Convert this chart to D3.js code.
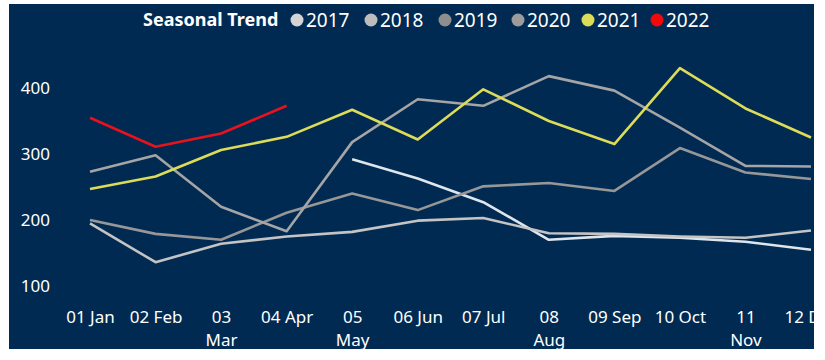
<!DOCTYPE html>
<html>
<head>
<meta charset="utf-8">
<script src="https://cdn.jsdelivr.net/npm/d3@7/dist/d3.min.js"></script>
<style>
  html, body { margin: 0; padding: 0; background: #ffffff; }
  svg { display: block; }
  text { font-family: "Noto Sans", "Open Sans", sans-serif; }
</style>
</head>
<body>
<svg id="chart" width="825" height="360"></svg>
<script>
// Month categories along the x axis
const categories = ["01 Jan", "02 Feb", "03 Mar", "04 Apr", "05 May", "06 Jun",
                    "07 Jul", "08 Aug", "09 Sep", "10 Oct", "11 Nov", "12 Dec"];
// Tick labels as drawn (some wrap onto a second line)
const tickLabels = [["01 Jan"], ["02 Feb"], ["03", "Mar"], ["04 Apr"], ["05", "May"], ["06 Jun"],
                    ["07 Jul"], ["08", "Aug"], ["09 Sep"], ["10 Oct"], ["11", "Nov"], ["12 Dec"]];
const yTicks = [100, 200, 300, 400];

// Yearly series (null = no data for that month)
const years = ["2017", "2018", "2019", "2020", "2021", "2022"];
const v2017 = [null, null, null, null, 292, 263, 227, 170, 176, 173, 167, 155];
const v2018 = [195, 136, 164, 175, 182, 199, 203, 180, 179, 175, 173, 184];
const v2019 = [200, 179, 170, 211, 240, 215, 251, 256, 244, 309, 272, 262];
const v2020 = [273, 298, 220, 183, 318, 383, 373, 418, 396, 340, 282, 281];
const v2021 = [247, 266, 306, 326, 367, 322, 398, 350, 315, 430, 369, 325];
const v2022 = [355, 311, 331, 373, null, null, null, null, null, null, null, null];
const seriesValues = [v2017, v2018, v2019, v2020, v2021, v2022];
const lineColors = ["#dfe5ec", "#c4c4c4", "#979797", "#a5a5a5", "#dcdc58", "#e8121c"];
const dotColors  = ["#d4d4d4", "#bdbdbd", "#8e8e8e", "#9c9c9c", "#dcdc58", "#f20a0a"];

const svg = d3.select("#chart");
const panel = { x: 9, y: 4, w: 805, h: 345 };
const navy = "#012a52";

svg.append("defs").append("clipPath").attr("id", "panelClip")
  .append("rect").attr("x", panel.x).attr("y", panel.y).attr("width", panel.w).attr("height", panel.h);

svg.append("rect")
  .attr("x", panel.x).attr("y", panel.y).attr("width", panel.w).attr("height", panel.h)
  .attr("fill", navy);

const g = svg.append("g").attr("clip-path", "url(#panelClip)");

const x = d3.scalePoint().domain(categories).range([90, 811]);
const y = d3.scaleLinear().domain([100, 400]).range([286, 88]);

// Y axis labels
const yAxis = g.append("g").attr("transform", "translate(50,0)")
  .call(d3.axisLeft(y).tickValues(yTicks).tickSize(0).tickPadding(0).tickFormat(d3.format("d")));
yAxis.select(".domain").remove();
yAxis.selectAll("text")
  .attr("fill", "#ffffff").attr("font-size", "17px")
  .attr("font-family", "'Noto Sans', sans-serif");

// X axis labels, wrapped where needed
const xAxis = g.append("g").attr("transform", "translate(0,305)")
  .call(d3.axisBottom(x).tickSize(0).tickPadding(0).tickFormat(() => ""));
xAxis.select(".domain").remove();
xAxis.selectAll(".tick text").each(function(d, i) {
  const t = d3.select(this)
    .attr("fill", "#ffffff").attr("font-size", "17px")
    .attr("font-family", "'Noto Sans', sans-serif")
    .attr("dy", null).attr("y", 0);
  t.text(null);
  tickLabels[i].forEach((line, k) => {
    t.append("tspan").attr("x", 0).attr("y", 18 + k * 23).text(line);
  });
});

// Lines
const line = d3.line()
  .defined(d => d.v != null)
  .x(d => x(d.c))
  .y(d => y(d.v));

years.forEach((yr, s) => {
  const pts = categories.map((c, i) => ({ c: c, v: seriesValues[s][i] }));
  g.append("path")
    .datum(pts)
    .attr("fill", "none")
    .attr("stroke", lineColors[s])
    .attr("stroke-width", 2.6)
    .attr("stroke-linejoin", "round")
    .attr("d", line);
});

// Legend
const legend = g.append("g").attr("transform", "translate(0,20)");
legend.append("text")
  .attr("x", 143).attr("y", 0).attr("dy", "0.35em")
  .attr("fill", "#ffffff").attr("font-size", "18px").attr("font-weight", 700)
  .text("Seasonal Trend");
const dotX = [297, 371, 445, 518, 588, 657];
years.forEach((yr, s) => {
  legend.append("circle").attr("cx", dotX[s]).attr("cy", 0).attr("r", 6.5).attr("fill", dotColors[s]);
  legend.append("text")
    .attr("x", dotX[s] + 9).attr("y", 0).attr("dy", "0.35em")
    .attr("fill", "#ffffff").attr("font-size", "19px")
    .text(yr);
});
</script>
</body>
</html>
